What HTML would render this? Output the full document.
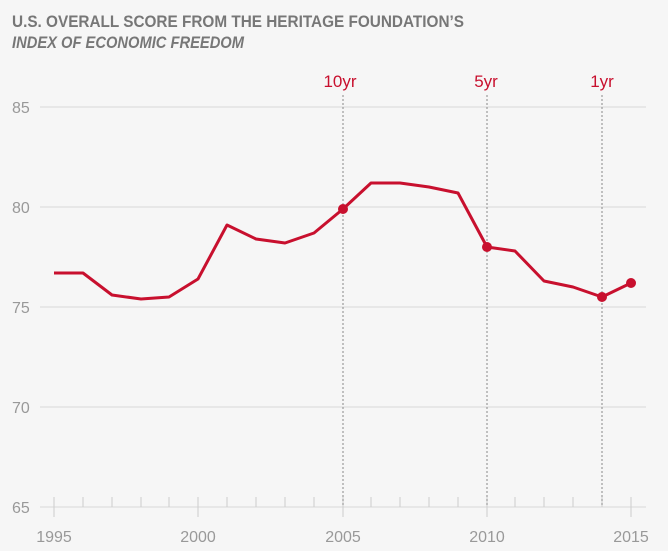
<!DOCTYPE html>
<html><head><meta charset="utf-8"><style>
html,body{margin:0;padding:0;background:#f6f6f6;}
svg{display:block;}
text{font-family:"Liberation Sans",sans-serif;}
</style></head><body>
<svg width="668" height="551" viewBox="0 0 668 551">
<rect width="668" height="551" fill="#f6f6f6"/>
<text x="12" y="27" font-size="17" font-weight="bold" fill="#777" textLength="452" lengthAdjust="spacingAndGlyphs">U.S. OVERALL SCORE FROM THE HERITAGE FOUNDATION’S</text>
<text x="12" y="48" font-size="17" font-weight="bold" font-style="italic" fill="#777" textLength="232" lengthAdjust="spacingAndGlyphs">INDEX OF ECONOMIC FREEDOM</text>
<g stroke="#d8d8d8" stroke-width="1">
<line x1="40" y1="107" x2="646" y2="107"/>
<line x1="40" y1="207" x2="646" y2="207"/>
<line x1="40" y1="307" x2="646" y2="307"/>
<line x1="40" y1="407" x2="646" y2="407"/>
<line x1="40" y1="507" x2="646" y2="507"/>
</g>
<g font-size="16" fill="#999">
<text x="12" y="113">85</text><text x="12" y="213">80</text><text x="12" y="313">75</text><text x="12" y="413">70</text><text x="12" y="513">65</text>
</g>
<g stroke="#ccc" stroke-width="1">
<line x1="54" y1="497" x2="54" y2="517"/>
<line x1="83" y1="497" x2="83" y2="507"/>
<line x1="112" y1="497" x2="112" y2="507"/>
<line x1="141" y1="497" x2="141" y2="507"/>
<line x1="169" y1="497" x2="169" y2="507"/>
<line x1="198" y1="497" x2="198" y2="517"/>
<line x1="227" y1="497" x2="227" y2="507"/>
<line x1="256" y1="497" x2="256" y2="507"/>
<line x1="285" y1="497" x2="285" y2="507"/>
<line x1="314" y1="497" x2="314" y2="507"/>
<line x1="343" y1="497" x2="343" y2="517"/>
<line x1="371" y1="497" x2="371" y2="507"/>
<line x1="400" y1="497" x2="400" y2="507"/>
<line x1="429" y1="497" x2="429" y2="507"/>
<line x1="458" y1="497" x2="458" y2="507"/>
<line x1="487" y1="497" x2="487" y2="517"/>
<line x1="515" y1="497" x2="515" y2="507"/>
<line x1="544" y1="497" x2="544" y2="507"/>
<line x1="573" y1="497" x2="573" y2="507"/>
<line x1="602" y1="497" x2="602" y2="507"/>
<line x1="631" y1="497" x2="631" y2="517"/>
</g>
<g font-size="16" fill="#999" text-anchor="middle">
<text x="54" y="542">1995</text><text x="198" y="542">2000</text><text x="343" y="542">2005</text><text x="487" y="542">2010</text><text x="631" y="542">2015</text>
</g>
<g stroke="#888" stroke-width="1" stroke-dasharray="2,2">
<line x1="343" y1="95" x2="343" y2="507"/>
<line x1="487" y1="95" x2="487" y2="507"/>
<line x1="602" y1="95" x2="602" y2="507"/>
</g>
<g font-size="17" fill="#c8102e" text-anchor="middle">
<text x="340" y="87">10yr</text><text x="486" y="87">5yr</text><text x="602" y="87">1yr</text>
</g>
<polyline fill="none" stroke="#c8102e" stroke-width="3" stroke-linejoin="round" points="54,273 83,273 112,295 141,299 169,297 198,279 227,225 256,239 285,243 314,233 343,209 371,183 400,183 429,187 458,193 487,247 515,251 544,281 573,287 602,297 631,283"/>
<g fill="#c8102e"><circle cx="343" cy="209" r="5"/><circle cx="487" cy="247" r="5"/><circle cx="602" cy="297" r="5"/><circle cx="631" cy="283" r="5"/></g>
</svg>
</body></html>
